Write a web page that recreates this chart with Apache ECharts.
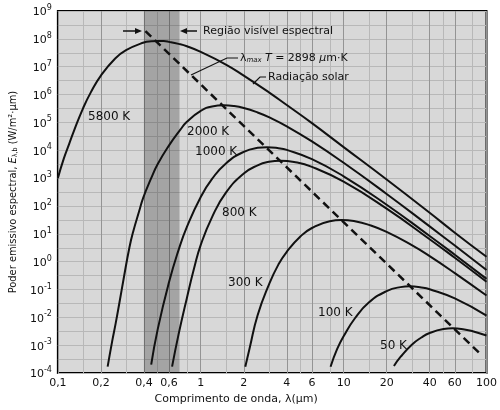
<!DOCTYPE html>
<html><head><meta charset="utf-8">
<script src="https://cdn.jsdelivr.net/npm/echarts@6/dist/echarts.min.js"></script>
<style>html,body{margin:0;padding:0;background:#fff}#c{width:500px;height:410px}</style>
</head><body><div id="c"></div>
<script>
// ---- tick values / labels ----
const xTickValues = [0.1, 0.2, 0.4, 0.6, 1, 2, 4, 6, 10, 20, 40, 60, 100];
const xTickLabels = ['0,1', '0,2', '0,4', '0,6', '1', '2', '4', '6', '10', '20', '40', '60', '100'];
const xMinorValues = [0.15, 0.3, 0.5, 0.8, 1.5, 3, 5, 8, 15, 30, 50, 80];
const yExponents = [-4, -3, -2, -1, 0, 1, 2, 3, 4, 5, 6, 7, 8, 9];
const visibleBand = [0.4, 0.71];

// ---- curves: wavelength (um) and spectral emissive power (W/m2.um) ----
const lam5800 = [0.1, 0.11, 0.12, 0.13, 0.15, 0.17, 0.2, 0.25, 0.3, 0.4, 0.45, 0.5, 0.55, 0.6, 0.7, 0.8, 1, 1.5, 2, 3, 4, 6, 10, 20, 40, 60, 100];
const E5800 = [1.0e3, 5e3, 1.7e4, 5.2e4, 3.2e5, 1.2e6, 4.8e6, 1.9e7, 3.9e7, 7.4e7, 8.2e7, 8.4e7, 8.3e7, 7.8e7, 6.6e7, 5.4e7, 3.4e7, 1.2e7, 4.8e6, 1.2e6, 4.2e5, 9.4e4, 1.3e4, 890, 57, 11, 1.5];

const lam2000 = [0.223, 0.24, 0.254, 0.27, 0.288, 0.317, 0.338, 0.37, 0.396, 0.45, 0.5, 0.6, 0.72, 0.8, 1.0, 1.2, 1.45, 1.7, 2, 2.5, 3, 4, 6, 10, 20, 40, 60, 100];
const E2000 = [1.7e-4, 1.4e-3, 6.2e-3, 0.035, 0.23, 3.3, 13, 63, 200, 1.0e3, 3.2e3, 1.5e4, 5.5e4, 1.05e5, 2.6e5, 3.76e5, 4.1e5, 3.88e5, 3.29e5, 2.28e5, 1.54e5, 7.25e4, 2.08e4, 3.55e3, 270, 18.5, 3.8, 0.5];

const lam1000 = [0.45, 0.5, 0.6, 0.7, 0.8, 1.0, 1.2, 1.5, 2, 2.5, 2.9, 3.5, 4, 6, 10, 20, 40, 60, 100];
const E1000 = [2e-4, 3.8e-3, 0.185, 2.65, 17.7, 211, 933, 3.37e3, 8.79e3, 1.22e4, 1.29e4, 1.19e4, 1.03e4, 4.81e3, 1.16e3, 111, 8.4, 1.78, 0.242];

const lam800 = [0.63, 0.7, 0.8, 0.9, 1.0, 1.2, 1.5, 2, 2.5, 3, 3.62, 4.5, 6, 10, 20, 40, 60, 100];
const E800 = [1.7e-4, 2.5e-3, 0.05, 0.6, 4, 40, 300, 1.46e3, 2.88e3, 3.85e3, 4.22e3, 3.8e3, 2.53e3, 742, 80, 6.4, 1.38, 0.19];

const lam300 = [2.05, 2.2, 2.5, 3, 3.5, 4, 5, 6, 8, 9.66, 12, 15, 20, 30, 40, 60, 100];
const E300 = [1.7e-4, 8e-4, 0.012, 0.15, 0.8, 2.27, 8.2, 16.2, 28.5, 31.3, 28.2, 21, 11.7, 3.9, 1.58, 0.39, 0.061];

const lam100 = [8.1, 9, 10, 12, 15, 20, 25, 29, 35, 40, 60, 100];
const E100 = [1.7e-4, 7.2e-4, 2.1e-3, 9.3e-3, 0.034, 0.088, 0.122, 0.13, 0.119, 0.103, 0.048, 0.0116];

const lam50 = [22.5, 25, 30, 35, 40, 50, 58, 70, 80, 100];
const E50 = [1.8e-4, 3.8e-4, 1.05e-3, 1.9e-3, 2.75e-3, 3.8e-3, 4.05e-3, 3.7e-3, 3.2e-3, 2.23e-3];

const wienLam = [0.41, 92];
const wienE = [1.9e8, 4.5e-4];

// ---- build ----
const L = Math.log10;
const pairs = (lam, E) => lam.map((l, i) => [L(l), L(E[i])]);
const FONT = '"DejaVu Sans", sans-serif';
const NARROW = '"Liberation Sans Narrow", "DejaVu Sans Condensed", "Liberation Sans"';
const INK = '#111';

function curve(lam, E) {
  return {
    type: 'line', data: pairs(lam, E), showSymbol: false, symbol: 'none',
    smooth: 0.5, z: 3, silent: true,
    lineStyle: { color: INK, width: 2 }
  };
}

const chart = echarts.init(document.getElementById('c'), null, { renderer: 'canvas' });

const option = {
  animation: false,
  backgroundColor: '#fff',
  grid: { left: 57, right: 12, top: 11, bottom: 32, show: true, backgroundColor: '#d8d8d8', borderColor: '#000', borderWidth: 2, containLabel: false },
  xAxis: [{
    type: 'value', min: -1, max: 2, position: 'bottom',
    axisLine: { show: false }, axisTick: { show: false, customValues: xTickValues.map(L) },
    splitLine: { show: true, lineStyle: { color: '#949494', width: 1 } },
    axisLabel: {
      customValues: xTickValues.map(L), margin: 5, color: INK, fontFamily: FONT, fontSize: 11,
      formatter: v => { const i = xTickValues.findIndex(t => Math.abs(L(t) - v) < 1e-6); return i >= 0 ? xTickLabels[i] : ''; }
    },
    name: 'Comprimento de onda, λ(μm)', nameLocation: 'middle', nameGap: 16,
    nameTextStyle: { fontFamily: FONT, fontSize: 11, color: INK, padding: [0, 72, 0, 0] }
  }, {
    type: 'value', min: -1, max: 2, position: 'top', gridIndex: 0,
    axisLine: { show: false }, axisLabel: { show: false },
    axisTick: { show: false, customValues: xMinorValues.map(L) },
    splitLine: { show: true, lineStyle: { color: '#b8b8b8', width: 1 } }
  }],
  yAxis: [{
    type: 'value', min: -4, max: 9, interval: 1,
    axisLine: { show: false }, axisTick: { show: false },
    splitLine: { show: true, lineStyle: { color: '#949494', width: 1 } },
    axisLabel: {
      margin: 6, color: INK,
      formatter: v => '{b|10}{s|' + v + '}',
      rich: {
        b: { fontFamily: FONT, fontSize: 11, color: INK, lineHeight: 14, verticalAlign: 'bottom' },
        s: { fontFamily: FONT, fontSize: 8, color: INK, lineHeight: 14, verticalAlign: 'top', padding: [0, 0, 5, 0] }
      }
    },
    name: '{n|Poder emissivo espectral, }{i|E}{sb|λ,b}{n| (W/m²·μm)}',
    nameLocation: 'middle', nameGap: 36, nameRotate: 90,
    nameTextStyle: {
      rich: {
        n: { fontFamily: NARROW, fontSize: 11, color: INK },
        i: { fontFamily: NARROW, fontSize: 11, fontStyle: 'italic', color: INK },
        sb: { fontFamily: NARROW, fontSize: 7, color: INK, verticalAlign: 'bottom', padding: [4, 0, 0, 0] }
      }
    }
  }, {
    type: 'value', min: -4, max: 9, interval: 0.5, position: 'right',
    axisLine: { show: false }, axisTick: { show: false }, axisLabel: { show: false },
    splitLine: { show: true, lineStyle: { color: '#b8b8b8', width: 1 } }
  }],
  series: [
    {
      type: 'line', data: [], z: 1, silent: true,
      markArea: { silent: true, itemStyle: { color: 'rgba(0,0,0,0.24)', borderWidth: 0 },
        data: [[{ xAxis: L(visibleBand[0]) }, { xAxis: L(visibleBand[1]) }]] }
    },
    curve(lam5800, E5800),
    curve(lam2000, E2000),
    curve(lam1000, E1000),
    curve(lam800, E800),
    curve(lam300, E300),
    curve(lam100, E100),
    curve(lam50, E50),
    {
      type: 'line', data: pairs(wienLam, wienE), showSymbol: false, symbol: 'none', z: 4, silent: true,
      lineStyle: { color: INK, width: 2.5, type: [8, 5] }
    }
  ]
};
chart.setOption(option);

// ---- annotations ----
const txt = (x, y, text, size) => ({ type: 'text', x, y, z: 10,
  style: { text, font: (size || 12) + 'px ' + FONT, fill: INK, align: 'left', verticalAlign: 'middle' } });
const arrow = (x1, x2, y) => {
  const dir = Math.sign(x2 - x1);
  return [
    { type: 'line', z: 10, shape: { x1, y1: y, x2: x2 - dir * 6, y2: y }, style: { stroke: INK, lineWidth: 1.5 } },
    { type: 'polygon', z: 10, shape: { points: [[x2, y], [x2 - dir * 7, y - 3], [x2 - dir * 7, y + 3]] }, style: { fill: INK } }
  ];
};
const graphics = [
  txt(88, 117, '5800 K'), txt(187, 132, '2000 K'), txt(195, 152, '1000 K'), txt(222, 213, '800 K'),
  txt(228, 283, '300 K'), txt(318, 313, '100 K'), txt(380, 346, '50 K'),
  txt(203, 31, 'Região visível espectral', 11),
  txt(268, 77, 'Radiação solar', 11),
  { type: 'text', x: 240, y: 58, z: 10, style: {
      text: '{a|λ}{m|max} {i|T} {a|= 2898 }{i|μ}{a|m·K}', verticalAlign: 'middle', align: 'left',
      rich: {
        a: { font: '11px ' + FONT, fill: INK },
        i: { font: 'italic 11px ' + FONT, fill: INK },
        m: { font: 'italic 7px ' + FONT, fill: INK, verticalAlign: 'bottom', padding: [5, 0, 0, 0] }
      } } },
  { type: 'polyline', z: 10, shape: { points: [[238, 58], [227, 58], [191, 75]] }, style: { stroke: INK, lineWidth: 1.2, fill: null } },
  { type: 'polyline', z: 10, shape: { points: [[266, 77], [260, 77], [253, 84]] }, style: { stroke: INK, lineWidth: 1.2, fill: null } },
  ...arrow(123, 142, 31), ...arrow(197, 180, 31)
];
chart.setOption({ graphic: graphics });
</script>
</body></html>
